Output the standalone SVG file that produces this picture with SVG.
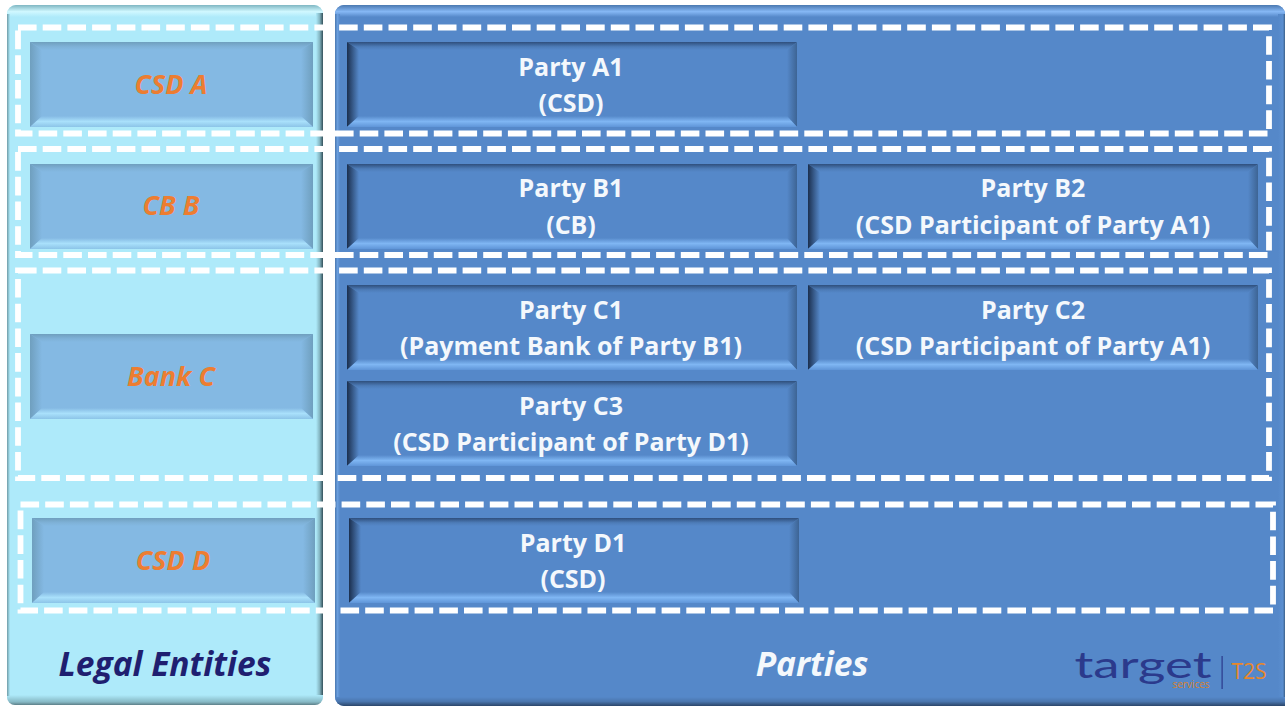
<svg xmlns="http://www.w3.org/2000/svg" width="1285" height="706" viewBox="0 0 1285 706">
<style>
text{font-family:"Open Sans","Noto Sans","Liberation Sans",sans-serif;text-anchor:middle}
.p{font-size:25px;font-weight:700;fill:#f4f8fc}
.l{font-size:27px;font-weight:700;font-style:italic;fill:#ed7d31}
.t{font-size:33.5px;font-weight:700;font-style:italic}
.d{fill:none;stroke:#fff;stroke-width:5.8;stroke-dasharray:18.6 6.1}
</style>
<defs>
<linearGradient id="leftEdge" x1="0" x2="1" y1="0" y2="0"><stop offset="0" stop-color="#aeeafa"/><stop offset="0.5" stop-color="#86b8c4"/><stop offset="1" stop-color="#33505a"/></linearGradient>
<linearGradient id="leftBottom" x1="0" x2="0" y1="0" y2="1"><stop offset="0" stop-color="#aeeafa"/><stop offset="0.7" stop-color="#86b8c4"/><stop offset="1" stop-color="#5d7f88"/></linearGradient>
<linearGradient id="leftTop" x1="0" x2="0" y1="0" y2="1"><stop offset="0" stop-color="#7fb6c2"/><stop offset="0.55" stop-color="#d0f8ff"/><stop offset="1" stop-color="#aeeafa"/></linearGradient>
<linearGradient id="leftSide" x1="0" x2="1" y1="0" y2="0"><stop offset="0" stop-color="#6f9ba6"/><stop offset="1" stop-color="#aeeafa"/></linearGradient>
<linearGradient id="rightTop" x1="0" x2="0" y1="0" y2="1"><stop offset="0" stop-color="#4a78b0"/><stop offset="0.55" stop-color="#86b8f5"/><stop offset="1" stop-color="#5588c9"/></linearGradient>
<linearGradient id="rightBottom" x1="0" x2="0" y1="0" y2="1"><stop offset="0" stop-color="#5588c9"/><stop offset="0.5" stop-color="#4a76ae"/><stop offset="1" stop-color="#2b466a"/></linearGradient>
<linearGradient id="rightSideL" x1="0" x2="1" y1="0" y2="0"><stop offset="0" stop-color="#4a78b0"/><stop offset="0.5" stop-color="#6a9edd"/><stop offset="1" stop-color="#5588c9"/></linearGradient>
<linearGradient id="rightSideR" x1="0" x2="1" y1="0" y2="0"><stop offset="0" stop-color="#5588c9"/><stop offset="0.7" stop-color="#5b8fd0"/><stop offset="1" stop-color="#3c6088"/></linearGradient>
<linearGradient id="lbT" x1="0" x2="0" y1="0" y2="1"><stop offset="0" stop-color="#6f9fbe"/><stop offset="0.6" stop-color="#7fb2d8"/><stop offset="1" stop-color="#84b9e3"/></linearGradient>
<linearGradient id="lbL" x1="0" x2="1" y1="0" y2="0"><stop offset="0" stop-color="#6f9fbe"/><stop offset="1" stop-color="#84b9e3"/></linearGradient>
<linearGradient id="lbR" x1="0" x2="1" y1="0" y2="0"><stop offset="0" stop-color="#84b9e3"/><stop offset="1" stop-color="#6f9fbe"/></linearGradient>
<linearGradient id="lbB" x1="0" x2="0" y1="0" y2="1"><stop offset="0" stop-color="#84b9e3"/><stop offset="0.5" stop-color="#a9e0fb"/><stop offset="1" stop-color="#8cc4e8"/></linearGradient>
<linearGradient id="pbT" x1="0" x2="0" y1="0" y2="1"><stop offset="0" stop-color="#2f4f7c"/><stop offset="0.6" stop-color="#4d7cb8"/><stop offset="1" stop-color="#5588c9"/></linearGradient>
<linearGradient id="pbL" x1="0" x2="1" y1="0" y2="0"><stop offset="0" stop-color="#1b2f4e"/><stop offset="1" stop-color="#5588c9"/></linearGradient>
<linearGradient id="pbR" x1="0" x2="1" y1="0" y2="0"><stop offset="0" stop-color="#5588c9"/><stop offset="1" stop-color="#3d6494"/></linearGradient>
<linearGradient id="pbB" x1="0" x2="0" y1="0" y2="1"><stop offset="0" stop-color="#5588c9"/><stop offset="0.5" stop-color="#7fb6f3"/><stop offset="1" stop-color="#5f95d8"/></linearGradient>
<g id="boxL">
<rect width="283" height="85" fill="#84b9e3"/>
<polygon points="0,0 283,0 271,8 12,8" fill="url(#lbT)"/>
<polygon points="0,0 12,8 12,74 0,85" fill="url(#lbL)"/>
<polygon points="283,0 283,85 271,74 271,8" fill="url(#lbR)"/>
<polygon points="0,85 12,74 271,74 283,85" fill="url(#lbB)"/>
</g>
<g id="boxP">
<rect width="450" height="85" fill="#5588c9"/>
<polygon points="0,0 450,0 440,8 12,8" fill="url(#pbT)"/>
<polygon points="0,0 12,8 12,74 0,85" fill="url(#pbL)"/>
<polygon points="450,0 450,85 440,74 440,8" fill="url(#pbR)"/>
<polygon points="0,85 12,74 440,74 450,85" fill="url(#pbB)"/>
</g>
</defs>
<rect width="1285" height="706" fill="#fff"/>
<g id="panel-legal-entities">
<rect x="7" y="5" width="316" height="700" rx="9" fill="#aeeafa"/>
<path d="M7 14a9 9 0 0 1 9-9h298a9 9 0 0 1 9 9v3H7z" fill="url(#leftTop)"/>
<rect x="316" y="13" width="7" height="684" fill="url(#leftEdge)"/>
<path d="M7 695H323v2a8 8 0 0 1-8 8H15a8 8 0 0 1-8-8z" fill="url(#leftBottom)"/>
<rect x="7" y="14" width="3" height="682" fill="url(#leftSide)"/>
<text class="t" x="165" y="676" fill="#1f1f70">Legal Entities</text>
</g>
<g id="panel-parties">
<rect x="335" y="5" width="950" height="701" rx="9" fill="#5588c9"/>
<path d="M335 14a9 9 0 0 1 9-9h932a9 9 0 0 1 9 9v3H335z" fill="url(#rightTop)"/>
<rect x="335" y="14" width="5" height="684" fill="url(#rightSideL)"/>
<rect x="1278" y="14" width="7" height="684" fill="url(#rightSideR)"/>
<path d="M335 697H1285v9H344a9 9 0 0 1-9-9z" fill="url(#rightBottom)"/>
<text class="t" x="812" y="676" fill="#f4f8fc">Parties</text>
</g>
<g id="csd-a"><use href="#boxL" x="30" y="42"/><text class="l" x="171" y="94">CSD A</text></g>
<g id="cb-b"><use href="#boxL" x="30" y="164"/><text class="l" x="171" y="215">CB B</text></g>
<g id="bank-c"><use href="#boxL" x="30" y="334"/><text class="l" x="171" y="386">Bank C</text></g>
<g id="csd-d"><use href="#boxL" x="32" y="518"/><text class="l" x="173" y="570">CSD D</text></g>
<g id="party-a1"><use href="#boxP" x="347" y="42"/><text class="p" x="571" y="76">Party A1</text><text class="p" x="571" y="112">(CSD)</text></g>
<g id="party-b1"><use href="#boxP" x="347" y="164"/><text class="p" x="571" y="197">Party B1</text><text class="p" x="571" y="234">(CB)</text></g>
<g id="party-b2"><use href="#boxP" x="808" y="164"/><text class="p" x="1033" y="197">Party B2</text><text class="p" x="1033" y="234">(CSD Participant of Party A1)</text></g>
<g id="party-c1"><use href="#boxP" x="347" y="285"/><text class="p" x="571" y="319">Party C1</text><text class="p" x="571" y="355">(Payment Bank of Party B1)</text></g>
<g id="party-c2"><use href="#boxP" x="808" y="285"/><text class="p" x="1033" y="319">Party C2</text><text class="p" x="1033" y="355">(CSD Participant of Party A1)</text></g>
<g id="party-c3"><use href="#boxP" x="347" y="381"/><text class="p" x="571" y="415">Party C3</text><text class="p" x="571" y="451">(CSD Participant of Party D1)</text></g>
<g id="party-d1"><use href="#boxP" x="349" y="518"/><text class="p" x="573" y="552">Party D1</text><text class="p" x="573" y="588">(CSD)</text></g>
<g id="groupings">
<rect class="d" x="18" y="27.5" width="1251" height="106"/>
<rect class="d" x="18" y="149" width="1251" height="106"/>
<rect class="d" x="18" y="270.5" width="1251" height="207.5"/>
<rect class="d" x="20.5" y="504.5" width="1252.5" height="106"/>
</g>
<g id="logo">
<text x="1143" y="678" font-size="37" textLength="137" lengthAdjust="spacingAndGlyphs" fill="#2b3a8c" style="font-family:Lato,'Open Sans',sans-serif">target</text>
<text x="1191" y="688" font-size="10" fill="#d9822b">services</text>
<rect x="1221.5" y="656" width="1.2" height="33" fill="#2b3a8c"/>
<text x="1249" y="679" font-size="21" fill="#e8872a">T2S</text>
</g>
</svg>
